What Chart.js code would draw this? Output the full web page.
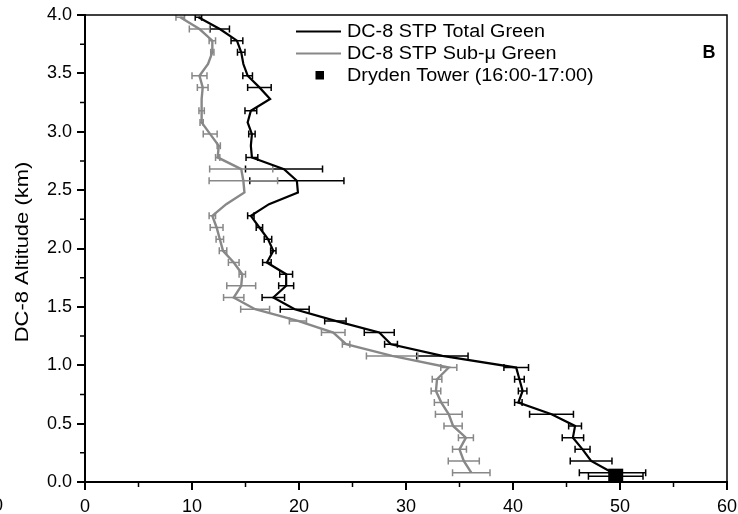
<!DOCTYPE html>
<html>
<head>
<meta charset="utf-8">
<script src="https://cdn.jsdelivr.net/npm/chart.js@4.4.0/dist/chart.umd.min.js"></script>
<style>
  html, body { margin: 0; padding: 0; background: #fff; }
  #wrap { width: 738px; height: 514px; }
</style>
</head>
<body>
<div id="wrap"><canvas id="profileChart" width="738" height="514"></canvas></div>
<script>
// altitude levels of the DC-8 profile (km)
const altitudes = [3.98, 3.88, 3.78, 3.68, 3.58, 3.48, 3.38, 3.28, 3.18, 3.08,
                   2.98, 2.88, 2.78, 2.68, 2.58, 2.48, 2.38, 2.28, 2.18, 2.08,
                   1.98, 1.88, 1.78, 1.68, 1.58, 1.48, 1.38, 1.28, 1.18, 1.08,
                   0.98, 0.88, 0.78, 0.68, 0.58, 0.48, 0.38, 0.28, 0.18, 0.08];

// DC-8 STP Total Green
const totalGreen = [10.6, 12.6, 14.2, 14.6, 14.8, 15.2, 16.3, 17.3, 15.5, 15.2,
                    15.6, 15.5, 15.6, 18.6, 19.8, 19.9, 17.2, 15.5, 16.3, 17.1,
                    17.6, 17.0, 18.8, 18.8, 17.6, 19.6, 23.4, 27.5, 28.6, 33.4,
                    40.3, 40.6, 40.9, 40.5, 43.6, 45.8, 45.6, 46.5, 47.3, 49.3];
const totalErr = [0.3, 0.9, 0.55, 0.35, 0, 0.45, 1.1, 0, 0.55, 0,
                  0.3, 0, 0.55, 3.6, 4.4, 0, 0, 0.3, 0.3, 0.35,
                  0.25, 0.4, 0.6, 0.7, 1.05, 1.35, 1.0, 1.4, 0.6, 2.4,
                  1.15, 0.45, 0.4, 0.35, 2.05, 0.6, 1.0, 0.7, 1.95, 3.1];

// DC-8 STP Sub-micron Green
const subGreen = [8.9, 10.7, 11.9, 11.9, 11.5, 10.7, 11.0, 10.9, 10.9, 10.9,
                  11.7, 12.5, 12.4, 14.6, 14.8, 14.9, 13.2, 11.9, 12.3, 12.6,
                  12.9, 13.9, 14.7, 14.6, 13.9, 15.9, 19.9, 23.2, 24.4, 28.7,
                  34.0, 32.9, 32.8, 33.3, 34.0, 34.4, 35.6, 35.0, 35.4, 36.1];
const subErr = [0.4, 0.95, 0.3, 0.15, 0, 0.7, 0.5, 0, 0.25, 0.15,
                0.65, 0.15, 0.2, 2.95, 3.2, 0, 0, 0.3, 0.6, 0.35,
                0.35, 0.5, 0.3, 1.35, 0.95, 1.35, 0.8, 1.1, 0.35, 2.4,
                0.75, 0.45, 0.45, 0.65, 1.25, 0.85, 0.7, 0.65, 1.45, 1.75];

// Dryden Tower (16:00-17:00)
const towerValue = [49.6];
const towerAlt = [0.05];
const towerErr = [2.55];

const xTicks = [0, 10, 20, 30, 40, 50, 60];
const yTicks = [0.0, 0.5, 1.0, 1.5, 2.0, 2.5, 3.0, 3.5, 4.0];

const FONT = 'Liberation Sans, Arial, sans-serif';

function points(xs, ys) {
    return xs.map((v, i) => ({x: v, y: ys[i]}));
}

// horizontal error bars with end caps
const errorBars = {
    id: 'errorBars',
    beforeDatasetsDraw(chart) {
        const ctx = chart.ctx;
        const xs = chart.scales.x, ys = chart.scales.y;
        const area = chart.chartArea;
        ctx.save();
        ctx.beginPath();
        ctx.rect(area.left, area.top, area.right - area.left, area.bottom - area.top);
        ctx.clip();
        chart.data.datasets.forEach(ds => {
            if (!ds.errors) return;
            ctx.strokeStyle = ds.barColor;
            ctx.lineWidth = 1.5;
            ds.data.forEach((p, i) => {
                const e = ds.errors[i];
                if (!e) return;
                const x1 = xs.getPixelForValue(p.x - e);
                const x2 = xs.getPixelForValue(p.x + e);
                const y = ys.getPixelForValue(p.y);
                ctx.beginPath();
                ctx.moveTo(x1, y); ctx.lineTo(x2, y);
                ctx.moveTo(x1, y - 3.5); ctx.lineTo(x1, y + 3.5);
                ctx.moveTo(x2, y - 3.5); ctx.lineTo(x2, y + 3.5);
                ctx.stroke();
            });
        });
        ctx.restore();
    }
};

function stretchText(ctx, text, x, y, sx) {
    ctx.save();
    ctx.translate(x, y);
    ctx.scale(sx, 1);
    ctx.fillText(text, 0, 0);
    ctx.restore();
}

// frame, minor ticks, axis title, legend and panel letter
const decorations = {
    id: 'decorations',
    afterDraw(chart) {
        const ctx = chart.ctx;
        const a = chart.chartArea;
        const xs = chart.scales.x, ys = chart.scales.y;
        ctx.save();
        ctx.strokeStyle = '#000';
        ctx.lineWidth = 1.5;
        ctx.beginPath();
        ctx.moveTo(a.left, a.top); ctx.lineTo(a.right, a.top); ctx.lineTo(a.right, a.bottom);
        ctx.stroke();

        // minor ticks
        ctx.lineWidth = 1.5;
        ctx.beginPath();
        for (let i = 0; i < xTicks.length - 1; i++) {
            const px = xs.getPixelForValue((xTicks[i] + xTicks[i + 1]) / 2);
            ctx.moveTo(px, a.bottom); ctx.lineTo(px, a.bottom + 5);
        }
        for (let i = 0; i < yTicks.length - 1; i++) {
            const py = ys.getPixelForValue((yTicks[i] + yTicks[i + 1]) / 2);
            ctx.moveTo(a.left, py); ctx.lineTo(a.left - 5, py);
        }
        ctx.stroke();

        ctx.fillStyle = '#000';
        ctx.font = '18px ' + FONT;
        ctx.textBaseline = 'middle';

        // y title
        ctx.save();
        ctx.translate(23, 252);
        ctx.rotate(-Math.PI / 2);
        ctx.scale(1.22, 1);
        ctx.textAlign = 'center';
        ctx.fillText('DC-8 Altitude (km)', 0, 0);
        ctx.restore();

        // piece of neighbouring label at the left edge
        ctx.textAlign = 'right';
        ctx.fillText('0', 3, 506);

        // legend
        const ds = chart.data.datasets;
        const rows = [31.5, 53.5, 75.5];
        ctx.lineWidth = 2;
        ctx.strokeStyle = ds[0].borderColor;
        ctx.beginPath(); ctx.moveTo(296, rows[0]); ctx.lineTo(341, rows[0]); ctx.stroke();
        ctx.strokeStyle = ds[1].borderColor;
        ctx.beginPath(); ctx.moveTo(296, rows[1]); ctx.lineTo(341, rows[1]); ctx.stroke();
        ctx.fillStyle = '#000';
        ctx.fillRect(315.5, rows[2] - 4.5, 8.5, 8.5);
        ctx.textAlign = 'left';
        ds.forEach((d, i) => stretchText(ctx, d.label, 347, rows[i] + 0.5, 1.1));

        ctx.font = 'bold 18px ' + FONT;
        ctx.textAlign = 'center';
        ctx.fillText('B', 709, 53.5);
        ctx.restore();
    }
};

const ctx = document.getElementById('profileChart').getContext('2d');
const profileChart = new Chart(ctx, {
    type: 'scatter',
    data: {
        datasets: [{
            label: 'DC-8 STP Total Green',
            data: points(totalGreen, altitudes),
            errors: totalErr,
            barColor: '#000',
            showLine: true,
            borderColor: '#000',
            borderWidth: 2.2,
            pointRadius: 0,
            tension: 0
        }, {
            label: 'DC-8 STP Sub-\u03bc Green',
            data: points(subGreen, altitudes),
            errors: subErr,
            barColor: '#888',
            showLine: true,
            borderColor: '#888',
            borderWidth: 2.4,
            pointRadius: 0,
            tension: 0
        }, {
            label: 'Dryden Tower (16:00-17:00)',
            data: points(towerValue, towerAlt),
            errors: towerErr,
            barColor: '#000',
            showLine: false,
            pointStyle: 'rect',
            pointRadius: 10.6,
            backgroundColor: '#000',
            borderColor: '#000',
            borderWidth: 0
        }]
    },
    options: {
        responsive: false,
        animation: false,
        layout: { autoPadding: false, padding: { left: 0, right: 11, top: 15, bottom: 0 } },
        plugins: { legend: { display: false }, tooltip: { enabled: false } },
        scales: {
            x: {
                type: 'linear',
                min: 0, max: 60,
                afterFit: s => { s.height = 32; s.paddingLeft = 0; s.paddingRight = 0; },
                afterBuildTicks: s => { s.ticks = xTicks.map(v => ({value: v})); },
                ticks: { color: '#000', font: { family: FONT, size: 18 }, padding: 6, maxRotation: 0 },
                grid: { drawOnChartArea: false, color: '#000', lineWidth: 2, tickLength: 8 },
                border: { color: '#000', width: 2 }
            },
            y: {
                type: 'linear',
                min: 0, max: 4,
                afterFit: s => { s.width = 85; s.paddingTop = 0; s.paddingBottom = 0; },
                afterBuildTicks: s => { s.ticks = yTicks.map(v => ({value: v})); },
                ticks: { color: '#000', font: { family: FONT, size: 18 }, padding: 5,
                         callback: v => v.toFixed(1) },
                grid: { drawOnChartArea: false, color: '#000', lineWidth: 2, tickLength: 8 },
                border: { color: '#000', width: 2 }
            }
        }
    },
    plugins: [errorBars, decorations]
});
</script>
</body>
</html>
